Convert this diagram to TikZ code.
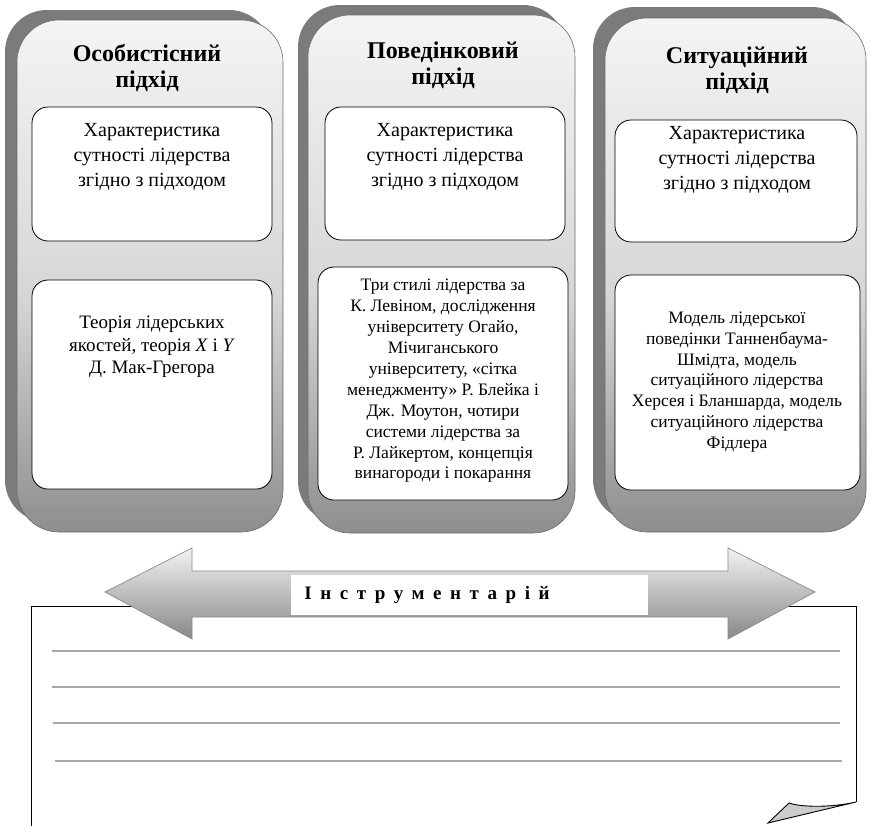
\documentclass[tikz,border=0pt]{standalone}
\usepackage{fontspec}
\setmainfont{Liberation Serif}
\definecolor{backgray}{HTML}{7B7B7B}
\definecolor{ptop}{HTML}{F4F4F4}
\definecolor{pmid}{HTML}{D6D6D6}
\definecolor{pbot}{HTML}{8E8E8E}
\definecolor{pedge}{HTML}{6A6A6A}
\definecolor{atop}{HTML}{F2F2F2}
\definecolor{abot}{HTML}{888888}
\definecolor{aedge}{HTML}{8C8C8C}
\definecolor{rule}{HTML}{A8A8A8}
\definecolor{curl}{HTML}{CCCCCC}
\pgfdeclareverticalshading{panelshade}{100bp}{color(0bp)=(pbot); color(25bp)=(pbot); color(48bp)=(pmid); color(75bp)=(ptop); color(100bp)=(ptop)}
\begin{document}
\begin{tikzpicture}[x=1pt,y=-1pt,
  backpanel/.style={fill=backgray, draw=none, rounded corners=42pt},
  frontpanel/.style={shading=panelshade, draw=pedge, line width=0.6pt, rounded corners=42pt},
  innerbox/.style={fill=white, draw=black, line width=0.8pt, rounded corners=16pt},
  titletext/.style={align=center, font=\bfseries\fontsize{24}{26}\selectfont, inner sep=0pt},
  toptext/.style={align=center, font=\fontsize{20}{25}\selectfont, inner sep=0pt},
  bottext/.style={align=center, font=\fontsize{19}{22.5}\selectfont, inner sep=0pt},
  smalltext/.style={align=center, font=\fontsize{17.5}{20.9}\selectfont, inner sep=0pt},
  ruleline/.style={draw=rule, line width=1.2pt}
]
\useasboundingbox (0,0) rectangle (873,825);

% ---------- column 1 ----------
\path[backpanel] (5,10) rectangle (271,522);
\path[frontpanel] (17,20) rectangle (283,532);
\node[titletext] (t1) at (147,68) {Особистісний\\підхід};
\path[innerbox] (32,107) rectangle (272,241);
\node[toptext] (a1) at (152,157) {Характеристика\\сутності лідерства\\згідно з підходом};
\path[innerbox] (32,280) rectangle (272,489);
\node[bottext] (b1) at (152,347) {Теорія лідерських\\якостей, теорія \textit{X} і \textit{Y}\\Д. Мак-Грегора};

% ---------- column 2 ----------
\path[backpanel] (298,5) rectangle (565,523);
\path[frontpanel] (308,15) rectangle (575,533);
\node[titletext] (t2) at (443,65) {Поведінковий\\підхід};
\path[innerbox] (325,107) rectangle (565,240);
\node[toptext] (a2) at (445,157) {Характеристика\\сутності лідерства\\згідно з підходом};
\path[innerbox] (318,267) rectangle (568,500);
\node[smalltext] (b2) at (443,381) {Три стилі лідерства за\\К. Левіном, дослідження\\університету Огайо,\\Мічиганського\\університету, «сітка\\менеджменту» Р. Блейка і\\Дж. Моутон, чотири\\системи лідерства за\\Р. Лайкертом, концепція\\винагороди і покарання};

% ---------- column 3 ----------
\path[backpanel] (593,7) rectangle (854,521);
\path[frontpanel] (605,18) rectangle (866,532);
\node[titletext] (t3) at (737,70) {Ситуаційний\\підхід};
\path[innerbox] (615,120) rectangle (857,242);
\node[toptext] (a3) at (737,160) {Характеристика\\сутності лідерства\\згідно з підходом};
\path[innerbox] (615,275) rectangle (860,490);
\node[smalltext] (b3) at (737,382) {Модель лідерської\\поведінки Танненбаума-\\Шмідта, модель\\ситуаційного лідерства\\Херсея і Бланшарда, модель\\ситуаційного лідерства\\Фідлера};

% ---------- page ----------
\fill[white] (31,840) -- (31,606) -- (856,606) -- (856,802) -- (768,840) -- cycle;
\draw[black, line width=0.9pt] (31,840) -- (31,606) -- (856,606) -- (856,802);
\filldraw[fill=curl, draw=black, line width=0.9pt] (856,802) .. controls (830,808) and (800,807) .. (789,803) -- (768,823) -- cycle;
\draw[ruleline] (52,651) -- (840,651);
\draw[ruleline] (52,687) -- (840,687);
\draw[ruleline] (53,723) -- (840,723);
\draw[ruleline] (55,761) -- (842,761);

% ---------- double arrow ----------
\path[top color=atop, bottom color=abot, draw=aedge, line width=0.7pt]
  (105,592) -- (192,548) -- (192,571) -- (728,571) -- (728,548) -- (815,592)
  -- (728,639) -- (728,617) -- (192,617) -- (192,639) -- cycle;
\node[fill=white, minimum width=357pt, minimum height=40pt, inner sep=0pt] (lab) at (469.5,595) {};
\node[font=\bfseries\fontsize{19}{22}\selectfont\addfontfeature{LetterSpace=45}, inner sep=0pt] (instr) at (427,595) {Інструментарій};
\end{tikzpicture}
\end{document}
